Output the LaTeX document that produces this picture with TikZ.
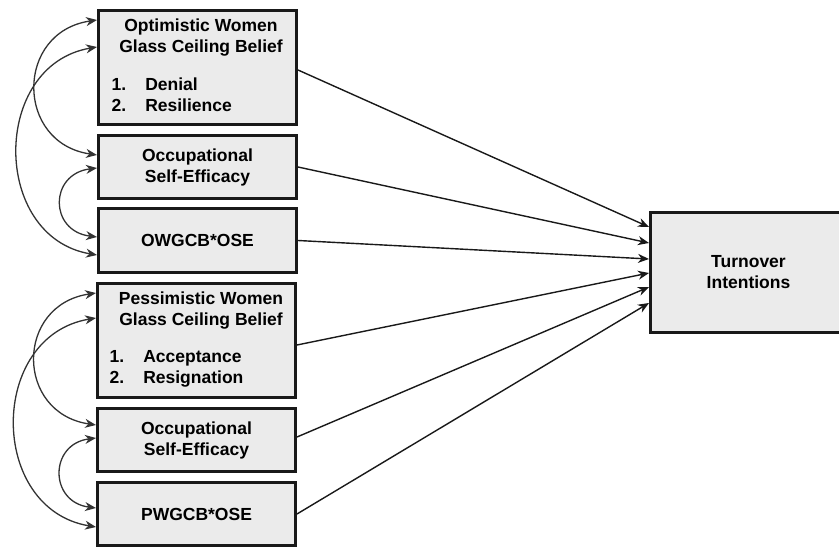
\documentclass[tikz,border=0pt]{standalone}
\usepackage{fontspec}
\setmainfont{Liberation Sans}
\usetikzlibrary{arrows.meta}
\begin{document}
\begin{tikzpicture}[x=1pt,y=-1pt,
  box/.style={draw=black!90,line width=3pt,fill=black!8,inner sep=0pt},
  txt/.style={font=\fontsize{17.5}{21}\selectfont\bfseries,align=center,inner sep=0pt,text=black},
  lst/.style={font=\fontsize{17.5}{21}\selectfont\bfseries,align=left,inner sep=0pt,anchor=north west,text=black},
  path/.style={draw=black!90,line width=1.4pt,-{Stealth[length=11pt,width=9pt,inset=3.5pt]}},
  cov/.style={draw=black!80,line width=1.3pt,{Stealth[length=11pt,width=9pt,inset=3.5pt]}-{Stealth[length=11pt,width=9pt,inset=3.5pt]}}]
\useasboundingbox (0,0) rectangle (839,548);
\begin{scope}
\clip (0,0) rectangle (839,548);
% boxes
\node[box,minimum width=198pt,minimum height=114pt] (b1) at (197.5,67.5) {};
\node[box,minimum width=198pt,minimum height=63pt] (b2) at (197.5,167) {};
\node[box,minimum width=198pt,minimum height=64pt] (b3) at (197.5,240.5) {};
\node[box,minimum width=198pt,minimum height=114pt] (b4) at (196.5,340.5) {};
\node[box,minimum width=198pt,minimum height=63pt] (b5) at (196.5,440) {};
\node[box,minimum width=198pt,minimum height=63pt] (b6) at (196.5,514) {};
\node[box,minimum width=196pt,minimum height=120pt] (t) at (748.5,272.5) {};
\end{scope}
% texts
\node[txt] (t1) at (201,38) {Optimistic Women\\Glass Ceiling Belief};
\node[lst] (l1) at (111.5,78) {1.\hspace{19pt}Denial\\2.\hspace{19pt}Resilience};
\node[txt] (t2) at (b2) {Occupational\\Self-Efficacy};
\node[txt] (t3) at (b3) {OWGCB*OSE};
\node[txt] (t4) at (201,311) {Pessimistic Women\\Glass Ceiling Belief};
\node[lst] (l4) at (109.5,350) {1.\hspace{19pt}Acceptance\\2.\hspace{19pt}Resignation};
\node[txt] (t5) at (b5) {Occupational\\Self-Efficacy};
\node[txt] (t6) at (b6) {PWGCB*OSE};
\node[txt] (tt) at (748.5,272.5) {Turnover\\Intentions};
% paths to outcome
\draw[path] ([yshift=-2.5pt]b1.east) -- ([yshift=45.5pt]t.west);
\draw[path] (b2.east) -- ([yshift=29.5pt]t.west);
\draw[path] (b3.east) -- ([yshift=13.5pt]t.west);
\draw[path] ([yshift=-4.5pt]b4.east) -- ([yshift=-0.5pt]t.west);
\draw[path] ([yshift=3pt]b5.east) -- ([yshift=-14.5pt]t.west);
\draw[path] (b6.east) -- ([yshift=-30.5pt]t.west);
% covariances upper
\draw[cov] ([yshift=47.5pt]b1.west) .. controls +(-82,12) and +(-82,-12) .. ([yshift=12pt]b2.west);
\draw[cov] ([yshift=20.5pt]b1.west) .. controls +(-106,18) and +(-106,-18) .. ([yshift=-14.5pt]b3.west);
\draw[cov] ([yshift=-1pt]b2.west) .. controls +(-48,6) and +(-48,-6) .. ([yshift=3.5pt]b3.west);
% covariances lower
\draw[cov] ([yshift=47.5pt]b4.west) .. controls +(-81,12) and +(-81,-12) .. ([yshift=15pt]b5.west);
\draw[cov] ([yshift=22.5pt]b4.west) .. controls +(-108,18) and +(-108,-18) .. ([yshift=-13pt]b6.west);
\draw[cov] ([yshift=2pt]b5.west) .. controls +(-47,6) and +(-47,-6) .. ([yshift=6pt]b6.west);
\end{tikzpicture}
\end{document}
